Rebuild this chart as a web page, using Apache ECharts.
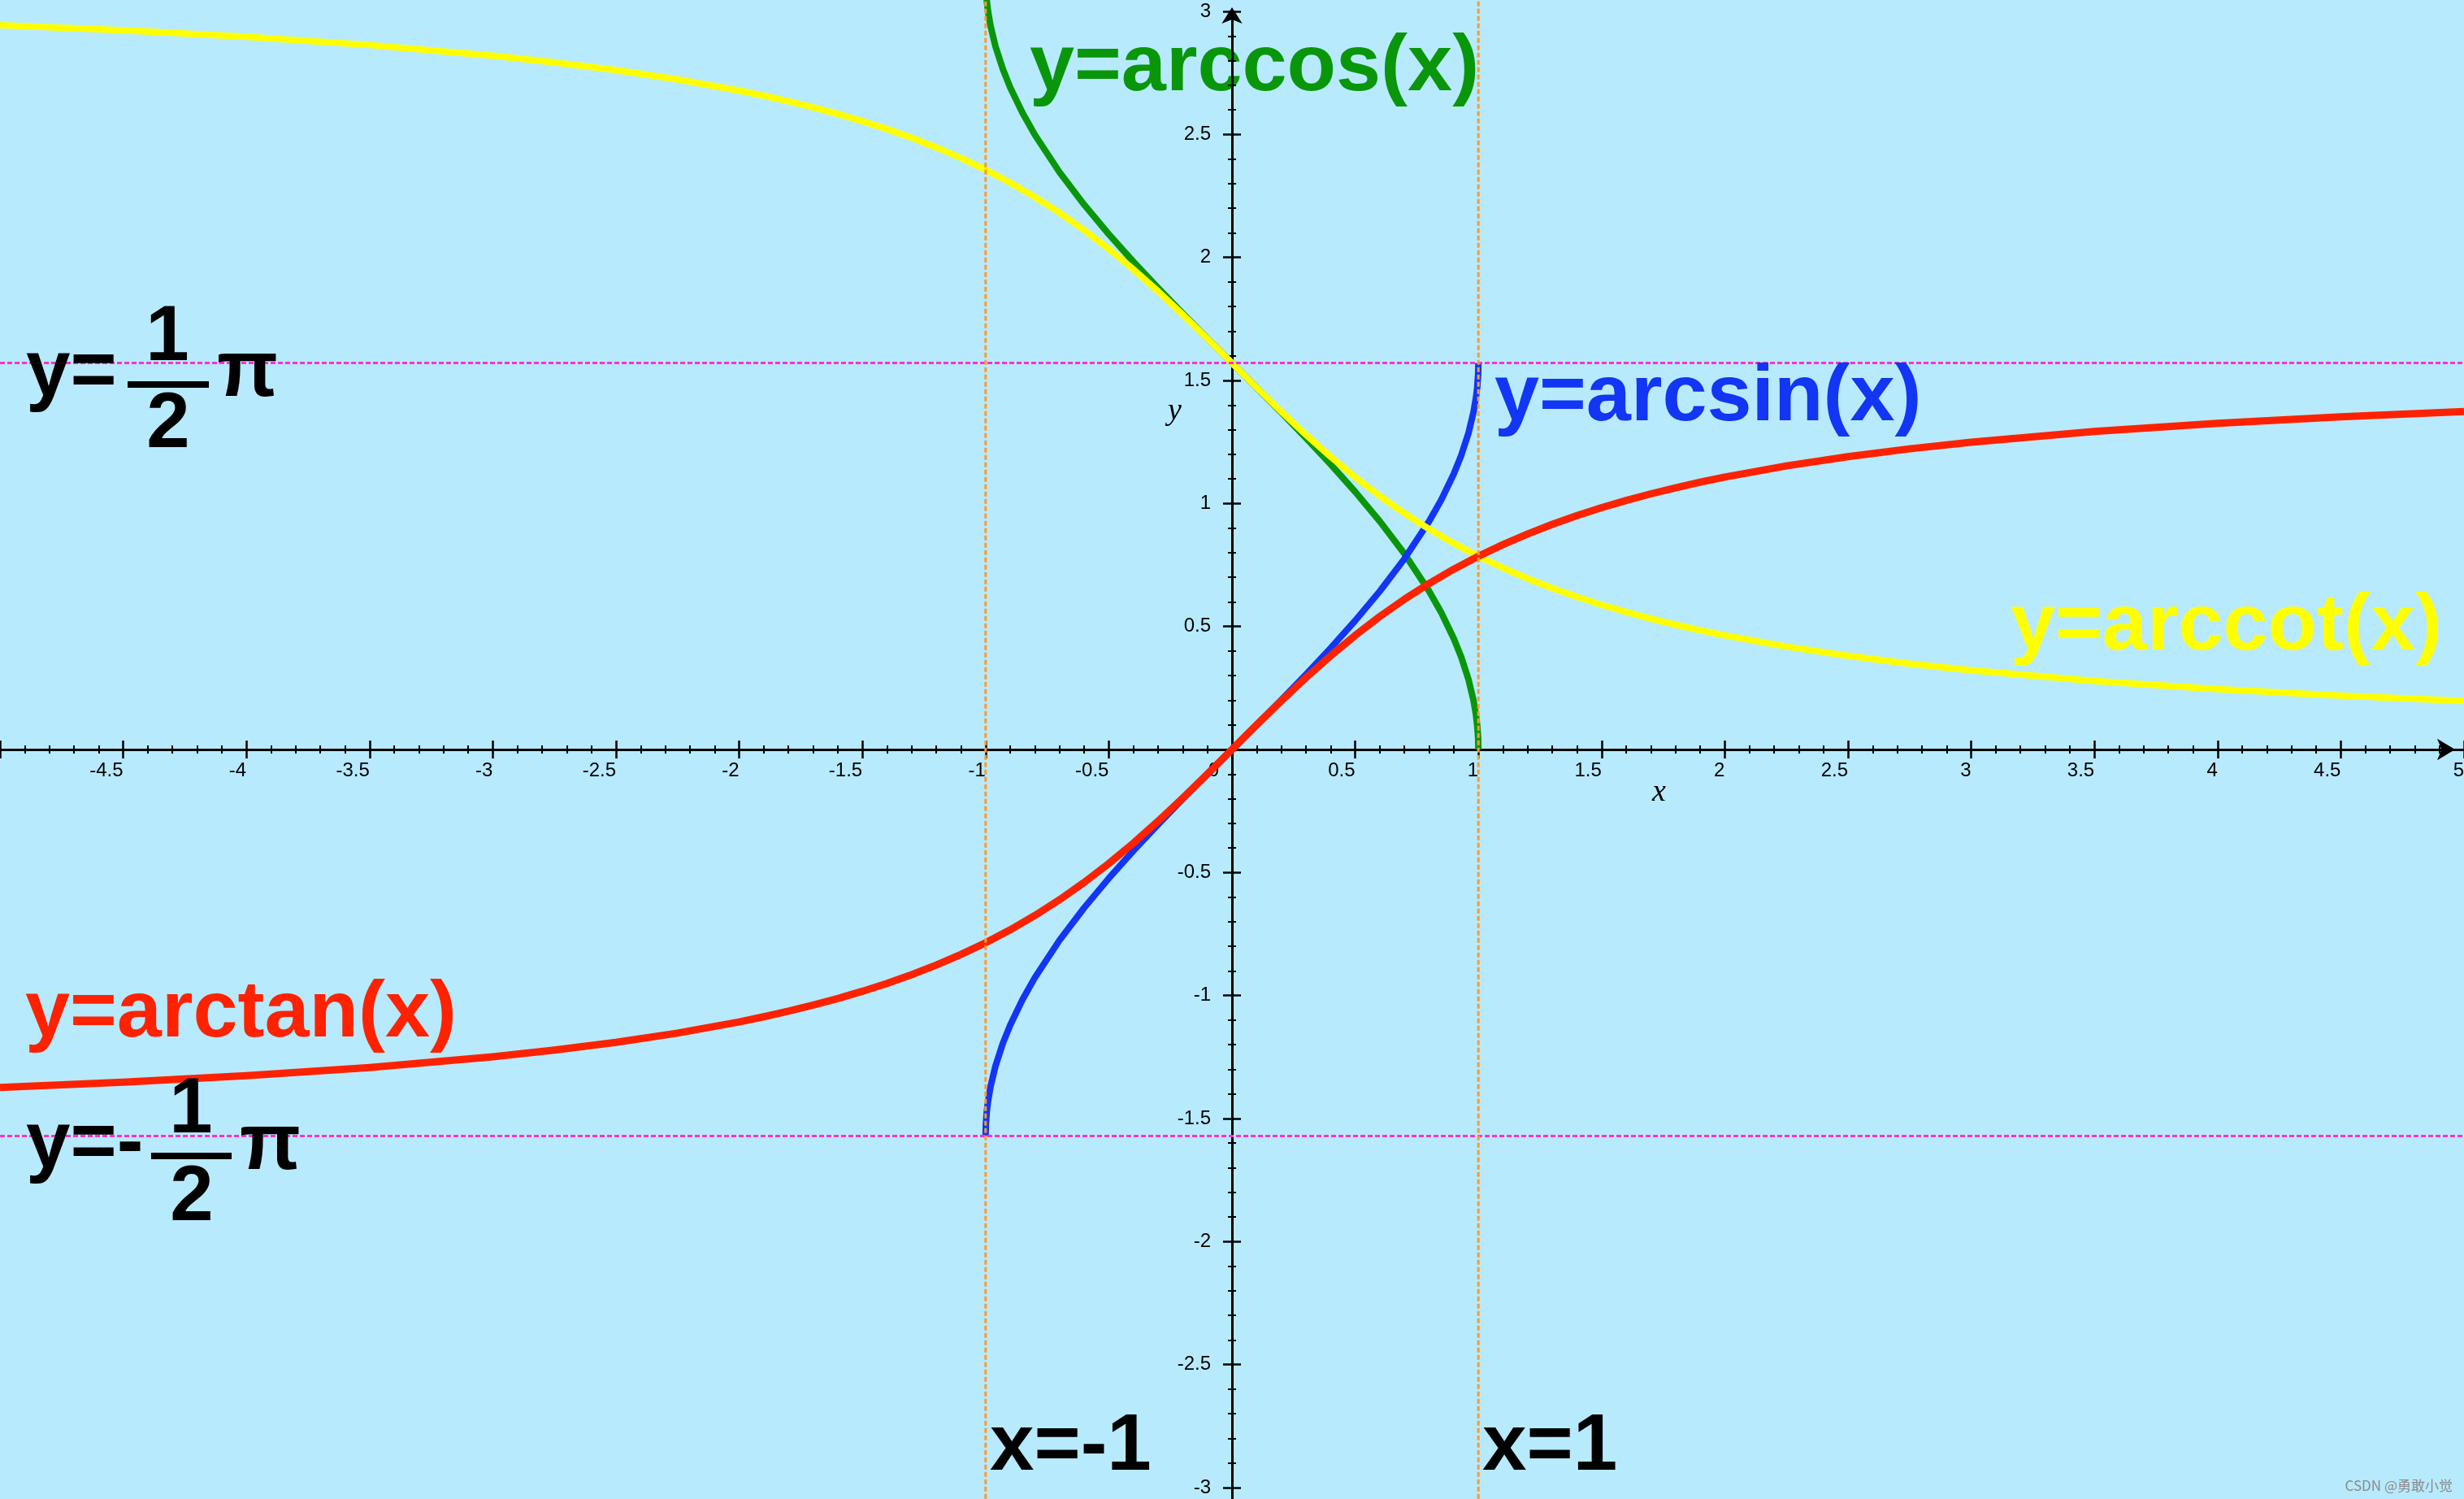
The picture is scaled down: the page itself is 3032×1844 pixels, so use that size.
<!DOCTYPE html>
<html>
<head>
<meta charset="utf-8">
<script src="https://cdn.jsdelivr.net/npm/echarts@6/dist/echarts.min.js"></script>
<style>
html,body{margin:0;padding:0;background:#b8eafd;overflow:hidden}
#c{width:3032px;height:1844px}
</style>
</head>
<body>
<div id="c"></div>
<script>
// ---- data ----
const invX   = [-1,-0.999,-0.995,-0.99,-0.98,-0.96,-0.93,-0.9,-0.85,-0.8,-0.7,-0.6,-0.5,-0.4,-0.3,-0.2,-0.1,0,0.1,0.2,0.3,0.4,0.5,0.6,0.7,0.8,0.85,0.9,0.93,0.96,0.98,0.99,0.995,0.999,1];
const arcsinY = [-1.5708,-1.5261,-1.4706,-1.4293,-1.3705,-1.2870,-1.1944,-1.1198,-1.0160,-0.9273,-0.7754,-0.6435,-0.5236,-0.4115,-0.3047,-0.2014,-0.1002,0,0.1002,0.2014,0.3047,0.4115,0.5236,0.6435,0.7754,0.9273,1.0160,1.1198,1.1944,1.2870,1.3705,1.4293,1.4706,1.5261,1.5708];
const arccosY = [3.1416,3.0969,3.0414,3.0001,2.9413,2.8578,2.7652,2.6906,2.5868,2.4981,2.3462,2.2143,2.0944,1.9823,1.8755,1.7722,1.6710,1.5708,1.4706,1.3694,1.2661,1.1593,1.0472,0.9273,0.7954,0.6435,0.5548,0.4510,0.3764,0.2838,0.2003,0.1415,0.1002,0.0447,0];
const fullX   = [-5,-4.5,-4,-3.5,-3,-2.75,-2.5,-2.25,-2,-1.9,-1.8,-1.7,-1.6,-1.5,-1.4,-1.3,-1.2,-1.1,-1,-0.9,-0.8,-0.7,-0.6,-0.5,-0.4,-0.3,-0.2,-0.1,0,0.1,0.2,0.3,0.4,0.5,0.6,0.7,0.8,0.9,1,1.1,1.2,1.3,1.4,1.5,1.6,1.7,1.8,1.9,2,2.25,2.5,2.75,3,3.5,4,4.5,5];
const arctanY = [-1.3734,-1.3521,-1.3258,-1.2925,-1.2490,-1.2220,-1.1903,-1.1526,-1.1071,-1.0863,-1.0637,-1.0391,-1.0122,-0.9828,-0.9505,-0.9151,-0.8761,-0.8330,-0.7854,-0.7328,-0.6747,-0.6107,-0.5404,-0.4636,-0.3805,-0.2915,-0.1974,-0.0997,0,0.0997,0.1974,0.2915,0.3805,0.4636,0.5404,0.6107,0.6747,0.7328,0.7854,0.8330,0.8761,0.9151,0.9505,0.9828,1.0122,1.0391,1.0637,1.0863,1.1071,1.1526,1.1903,1.2220,1.2490,1.2925,1.3258,1.3521,1.3734];
const arccotY = [2.9442,2.9229,2.8966,2.8633,2.8198,2.7928,2.7611,2.7234,2.6779,2.6571,2.6345,2.6099,2.5830,2.5536,2.5213,2.4859,2.4469,2.4038,2.3562,2.3036,2.2455,2.1815,2.1112,2.0344,1.9513,1.8623,1.7682,1.6705,1.5708,1.4711,1.3734,1.2793,1.1903,1.1072,1.0304,0.9601,0.8961,0.8380,0.7854,0.7378,0.6947,0.6557,0.6203,0.5880,0.5586,0.5317,0.5071,0.4845,0.4636,0.4182,0.3805,0.3488,0.3218,0.2783,0.2450,0.2187,0.1974];
const asymptoteY = [1.5708, -1.5708];
const boundaryX  = [-1, 1];
const xRange = [-5, 5];
const yRange = [-3.5, 3];
const tickStep = 0.5;

// ---- build ----
const chart = echarts.init(document.getElementById('c'), null, {renderer: 'canvas'});
const zip = (xs, ys) => xs.map((x, i) => [x, ys[i]]);
const curve = (name, xs, ys, color, width, clip) => ({
  name, type: 'line', data: zip(xs, ys), showSymbol: false, symbol: 'none',
  smooth: false, clip: clip, z: 3, sampling: null,
  lineStyle: {color, width, join: 'round'}, silent: true
});
const labelFont = "'Liberation Sans', Arial, sans-serif";

const series = [
  curve('arccos', invX, arccosY, '#0a960a', 8, false),
  curve('arcsin', invX, arcsinY, '#1236f4', 8, true),
  curve('arccot', fullX, arccotY, '#ffff00', 8, true),
  curve('arctan', fullX, arctanY, '#ff2200', 9, true)
];
asymptoteY.forEach(v => series.push({
  type: 'line', data: [[xRange[0], v], [xRange[1], v]], showSymbol: false, symbol: 'none', z: 5, silent: true,
  lineStyle: {color: '#ff2fd6', width: 3, type: [6, 3]}
}));
boundaryX.forEach(v => series.push({
  type: 'line', data: [[v, -3.7], [v, 3.2]], showSymbol: false, symbol: 'none', z: 6, clip: false, silent: true,
  lineStyle: {color: '#ff9a2c', width: 3, type: [6, 3]}
}));

const lineCfg = {onZero: false, lineStyle: {color: '#000', width: 3}};
const tickCfg = {show: true, length: 11, lineStyle: {color: '#000', width: 2.5}};
const minorCfg = {show: true, splitNumber: 5, length: 5, lineStyle: {color: '#000', width: 2}};

function buildAxes(off) {
  const xAxes = [
    {type: 'value', position: 'bottom', offset: off.xb, min: xRange[0], max: xRange[1], interval: tickStep, z: 1,
     axisLine: Object.assign({}, lineCfg, {symbol: ['none', 'arrow'], symbolSize: [20, 22], symbolOffset: [0, -11]}),
     axisTick: tickCfg, minorTick: minorCfg, splitLine: {show: false}, minorSplitLine: {show: false},
     axisLabel: {show: true, margin: 14, align: 'right', fontSize: 24, color: '#000', fontFamily: labelFont,
       showMinLabel: false, showMaxLabel: true, hideOverlap: false,
       formatter: v => (v === 0 ? '{z|0}' : String(v)),
       rich: {z: {fontSize: 24, fontFamily: labelFont, color: '#000', padding: [0, 16, 0, 0]}}}},
    {type: 'value', position: 'top', offset: off.xt, min: xRange[0], max: xRange[1], interval: tickStep, z: 1,
     axisLine: Object.assign({}, lineCfg, {show: false}),
     axisTick: tickCfg, minorTick: minorCfg, splitLine: {show: false}, axisLabel: {show: false}}
  ];
  const yAxes = [
    {type: 'value', position: 'left', offset: off.yl, min: yRange[0], max: yRange[1], interval: tickStep, z: 1,
     axisLine: Object.assign({}, lineCfg, {symbol: ['none', 'arrow'], symbolSize: [19, 20], symbolOffset: [0, 5]}),
     axisTick: tickCfg, minorTick: minorCfg, splitLine: {show: false}, minorSplitLine: {show: false},
     axisLabel: {show: true, margin: 26, fontSize: 24, color: '#000', fontFamily: labelFont, hideOverlap: false,
       showMinLabel: true, showMaxLabel: true, formatter: v => (v === 0 ? '' : String(v))}},
    {type: 'value', position: 'right', offset: off.yr, min: yRange[0], max: yRange[1], interval: tickStep, z: 1,
     axisLine: Object.assign({}, lineCfg, {show: false}),
     axisTick: tickCfg, minorTick: minorCfg, splitLine: {show: false}, axisLabel: {show: false}}
  ];
  return {xAxis: xAxes, yAxis: yAxes};
}

function T(text, x, baseline, size, color, extra) {
  const o = Object.assign({bold: true, align: 'left', z: 10, family: labelFont, italic: false}, extra || {});
  return {
    type: 'text', z: o.z, silent: true,
    style: {
      text: text, x: x, y: baseline - 0.35 * size,
      font: (o.italic ? 'italic ' : '') + (o.bold ? 'bold ' : '') + size + 'px ' + o.family,
      fill: color, align: o.align, verticalAlign: 'middle'
    }
  };
}
const bar = (x, y, w, h) => ({type: 'rect', z: 10, silent: true, shape: {x, y, width: w, height: h}, style: {fill: '#000'}});

const graphics = [
  T('y=arccos(x)', 1267, 118, 99, '#0a960a', {z: 0}),
  T('y=arcsin(x)', 1839, 524, 99, '#1236f4'),
  T('y=arccot(x)', 2474, 806, 99, '#ffff00'),
  T('y=arctan(x)', 31, 1282, 99, '#ff2200'),
  T('x=-1', 1218, 1815, 98, '#000'),
  T('x=1', 1824, 1815, 98, '#000'),
  T('y=', 32, 494, 98, '#000'),
  T('1', 206, 450, 96, '#000', {align: 'center'}),
  bar(157, 469, 100, 8),
  T('2', 207, 557, 96, '#000', {align: 'center'}),
  T('π', 267, 494, 98, '#000'),
  T('y=-', 32, 1443, 98, '#000'),
  T('1', 235, 1400, 96, '#000', {align: 'center'}),
  bar(186, 1418, 99, 8),
  T('2', 236, 1508, 96, '#000', {align: 'center'}),
  T('π', 295, 1445, 98, '#000'),
  T('x', 2033, 988, 38, '#000', {bold: false, italic: true, family: "'Liberation Serif', 'Times New Roman', serif"}),
  T('y', 1437, 519, 38, '#000', {bold: false, italic: true, family: "'Liberation Serif', 'Times New Roman', serif"}),
  T('CSDN @勇敢小觉', 3018, 1833, 17, '#8a8a8a', {bold: false, align: 'right', family: "'Noto Sans CJK SC', 'Noto Sans', sans-serif"})
];

const first = buildAxes({xb: 0, xt: 0, yl: 0, yr: 0});
chart.setOption({
  animation: false,
  backgroundColor: '#b8eafd',
  grid: {left: 0, right: 0, top: 14, bottom: -137.3, containLabel: false, outerBoundsMode: 'none'},
  xAxis: first.xAxis,
  yAxis: first.yAxis,
  series: series,
  graphic: {elements: graphics}
});

// place the axes on the origin using the library's own scales
const rect = chart.getModel().getComponent('grid', 0).coordinateSystem.getRect();
const origin = chart.convertToPixel({gridIndex: 0}, [0, 0]);
const second = buildAxes({
  xb: origin[1] - (rect.y + rect.height),
  xt: rect.y - origin[1],
  yl: rect.x - origin[0],
  yr: origin[0] - (rect.x + rect.width)
});
chart.setOption({xAxis: second.xAxis, yAxis: second.yAxis});
</script>
</body>
</html>
